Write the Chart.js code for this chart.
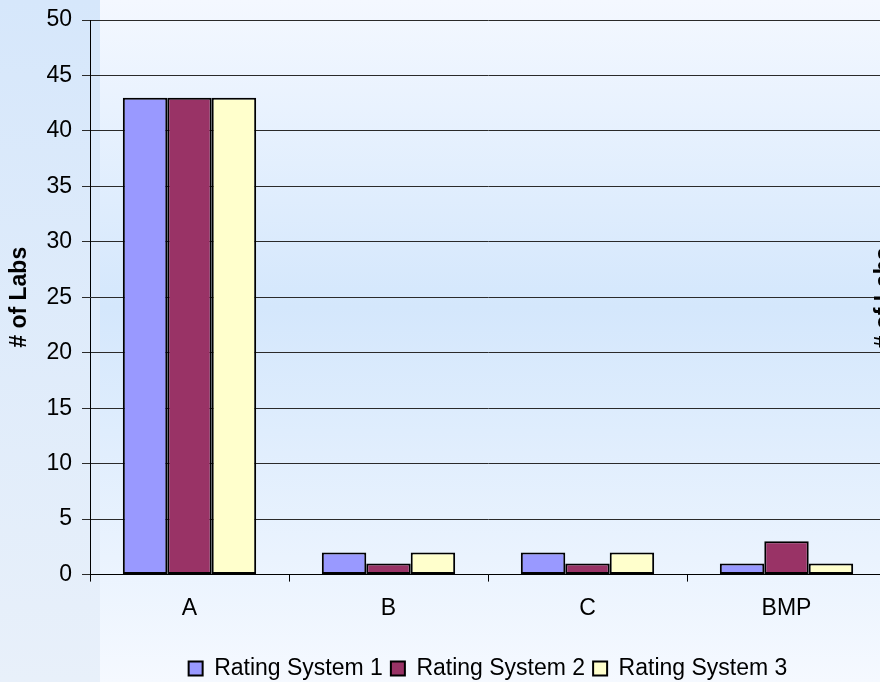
<!DOCTYPE html>
<html>
<head>
<meta charset="utf-8">
<script src="https://cdn.jsdelivr.net/npm/chart.js@4"></script>
<style>
  html, body { margin: 0; padding: 0; overflow: hidden; width: 880px; height: 682px; }
  #wrap { width: 900px; height: 690px; }
</style>
</head>
<body>
<div id="wrap"><canvas id="canvas" width="900" height="690"></canvas></div>
<script>
// data
var categories = ['A', 'B', 'C', 'BMP'];
var rating1 = [43, 2, 2, 1];
var rating2 = [43, 1, 1, 3];
var rating3 = [43, 2, 2, 1];
var seriesNames = ['Rating System 1', 'Rating System 2', 'Rating System 3'];
var yTicks = [0, 5, 10, 15, 20, 25, 30, 35, 40, 45, 50];

var FONT = "'Liberation Sans', Arial, sans-serif";

// background: light strip on the left, blue band behind the plot
var bgPlugin = {
    id: 'bg',
    beforeDraw: function(chart) {
        var c = chart.ctx, w = chart.width, h = 682;
        c.save();
        var g1 = c.createLinearGradient(0, 0, 0, h);
        g1.addColorStop(0, '#d6e7fb');
        g1.addColorStop(1, '#e8f0fa');
        c.fillStyle = g1;
        c.fillRect(0, 0, 100, chart.height);
        var g2 = c.createLinearGradient(0, 0, 0, h);
        g2.addColorStop(0, '#f4f8ff');
        g2.addColorStop(0.45, '#d4e7fc');
        g2.addColorStop(1, '#f5f9ff');
        c.fillStyle = g2;
        c.fillRect(100, 0, w - 100, chart.height);
        c.restore();
    },
    afterDraw: function(chart) {
        // cut-off axis title of the neighbouring chart at the right edge
        var c = chart.ctx;
        c.save();
        c.translate(885, 298);
        c.rotate(-Math.PI / 2);
        c.font = 'bold 23px ' + FONT;
        c.fillStyle = '#000';
        c.textAlign = 'center';
        c.textBaseline = 'middle';
        c.fillText('# of Labs', 0, 0);
        c.restore();
    }
};

function makeSet(label, data, color) {
    return {
        label: label,
        data: data,
        backgroundColor: color,
        borderColor: '#000',
        borderWidth: 2,
        borderSkipped: false,
        categoryPercentage: 0.67,
        barPercentage: 1.0
    };
}

var ctx = document.getElementById('canvas').getContext('2d');
new Chart(ctx, {
    type: 'bar',
    data: {
        labels: categories,
        datasets: [
            makeSet(seriesNames[0], rating1, '#9999ff'),
            makeSet(seriesNames[1], rating2, '#993366'),
            makeSet(seriesNames[2], rating3, '#ffffcc')
        ]
    },
    plugins: [bgPlugin],
    options: {
        responsive: false,
        animation: false,
        layout: { padding: { top: 20, right: 14, left: 0, bottom: 0 } },
        plugins: {
            tooltip: { enabled: false },
            legend: {
                position: 'bottom',
                fullSize: false,
                labels: {
                    color: '#000',
                    font: { family: FONT, size: 23 },
                    boxWidth: 14,
                    boxHeight: 14,
                    padding: 8,
                    generateLabels: function(chart) {
                        return chart.data.datasets.map(function(ds, i) {
                            return {
                                text: ds.label,
                                fillStyle: ds.backgroundColor,
                                strokeStyle: '#000',
                                lineWidth: 2,
                                datasetIndex: i
                            };
                        });
                    }
                }
            }
        },
        scales: {
            x: {
                offset: true,
                border: { color: '#000', width: 1 },
                grid: { offset: true, drawOnChartArea: false, drawTicks: true, tickLength: 7, color: '#000' },
                ticks: { color: '#000', font: { family: FONT, size: 23 }, padding: 13 },
                afterFit: function(scale) { scale.height = 74.4; }
            },
            y: {
                min: 0,
                max: 50,
                afterBuildTicks: function(scale) {
                    scale.ticks = yTicks.map(function(v) { return { value: v }; });
                },
                border: { color: '#000', width: 1 },
                grid: { color: '#2a2a2a', lineWidth: 1, tickLength: 8 },
                ticks: { color: '#000', font: { family: FONT, size: 23 }, padding: 10 },
                title: {
                    display: true,
                    text: '# of Labs',
                    color: '#000',
                    font: { family: FONT, size: 23, weight: 'bold' },
                    padding: { top: 6, bottom: 0 }
                },
                afterFit: function(scale) {
                    scale.width = 90;
                    scale.paddingTop = 0;
                    scale.paddingBottom = 0;
                }
            }
        }
    }
});
</script>
</body>
</html>
